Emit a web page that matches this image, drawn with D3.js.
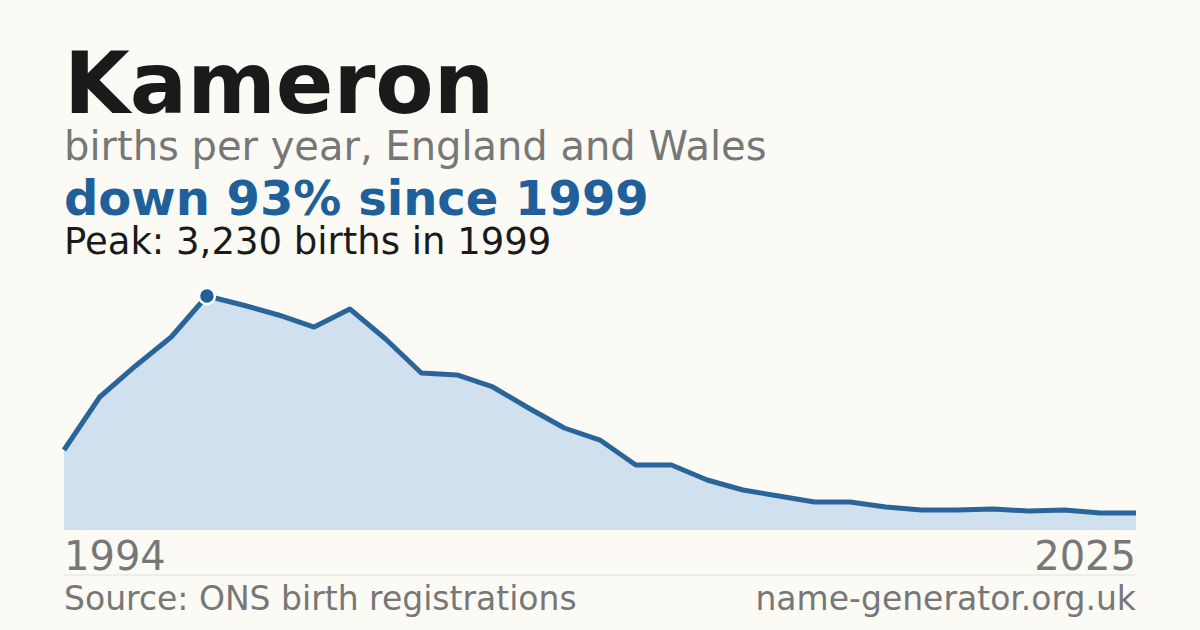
<!DOCTYPE html>
<html>
<head>
<meta charset="utf-8">
<script src="https://cdn.jsdelivr.net/npm/d3@7"></script>
<style>
  body { margin: 0; background: #fbfaf5; }
  svg { display: block; font-family: "DejaVu Sans", sans-serif; }
</style>
</head>
<body>
<svg id="chart" width="1200" height="630"></svg>
<script>
// Births per year (index 0 = first point shown)
const years = d3.range(1995, 2026);
const births = [1104, 1836, 2264, 2664, 3230, 3106, 2968, 2802, 3050, 2637,
  2167, 2140, 1974, 1684, 1408, 1242, 898, 898, 690, 552,
  469, 386, 386, 317, 276, 276, 290, 262, 276, 235, 235];
const tickLabels = ["1994", "2025"];

const svg = d3.select("#chart");
svg.append("rect").attr("width", 1200).attr("height", 630).attr("fill", "#fbfaf5");

const x = d3.scaleLinear().domain([0, years.length - 1]).range([64, 1136]);
const y = d3.scaleLinear().domain([0, d3.max(births)]).range([530, 296]);

// Header texts
svg.append("text").attr("x", 64).attr("y", 113).attr("font-size", 85).attr("font-weight", "bold")
  .attr("fill", "#1a1a1a").text("Kameron");
svg.append("text").attr("x", 64).attr("y", 160).attr("font-size", 40).attr("fill", "#777")
  .text("births per year, England and Wales");
svg.append("text").attr("x", 64).attr("y", 215).attr("font-size", 48).attr("font-weight", "bold")
  .attr("fill", "#20609a").text("down 93% since 1999");
svg.append("text").attr("x", 64).attr("y", 254).attr("font-size", 37).attr("fill", "#1a1a1a")
  .text("Peak: 3,230 births in 1999");

// Area + line
const area = d3.area().x((d, i) => x(i)).y0(530).y1(d => y(d));
const line = d3.line().x((d, i) => x(i)).y(d => y(d));
svg.append("path").datum(births).attr("d", area).attr("fill", "#d0e0ef");
svg.append("path").datum(births).attr("d", line).attr("fill", "none")
  .attr("stroke", "#2a6599").attr("stroke-width", 5).attr("stroke-linejoin", "round");

// Peak marker
const peakIdx = births.indexOf(d3.max(births));
svg.append("circle").attr("cx", x(peakIdx)).attr("cy", y(births[peakIdx])).attr("r", 8)
  .attr("fill", "#20609a").attr("stroke", "#fff").attr("stroke-width", 2.5);

// Axis labels
svg.append("text").attr("x", 64).attr("y", 570).attr("font-size", 40).attr("fill", "#777")
  .text(tickLabels[0]);
svg.append("text").attr("x", 1136).attr("y", 570).attr("font-size", 40).attr("fill", "#777")
  .attr("text-anchor", "end").text(tickLabels[1]);

svg.append("line").attr("x1", 64).attr("x2", 1136).attr("y1", 575).attr("y2", 575)
  .attr("stroke", "#e2e0da").attr("stroke-width", 1);

// Footer
svg.append("text").attr("x", 64).attr("y", 610).attr("font-size", 33).attr("fill", "#777")
  .text("Source: ONS birth registrations");
svg.append("text").attr("x", 1136).attr("y", 610).attr("font-size", 33).attr("fill", "#777")
  .attr("text-anchor", "end").text("name-generator.org.uk");
</script>
</body>
</html>
